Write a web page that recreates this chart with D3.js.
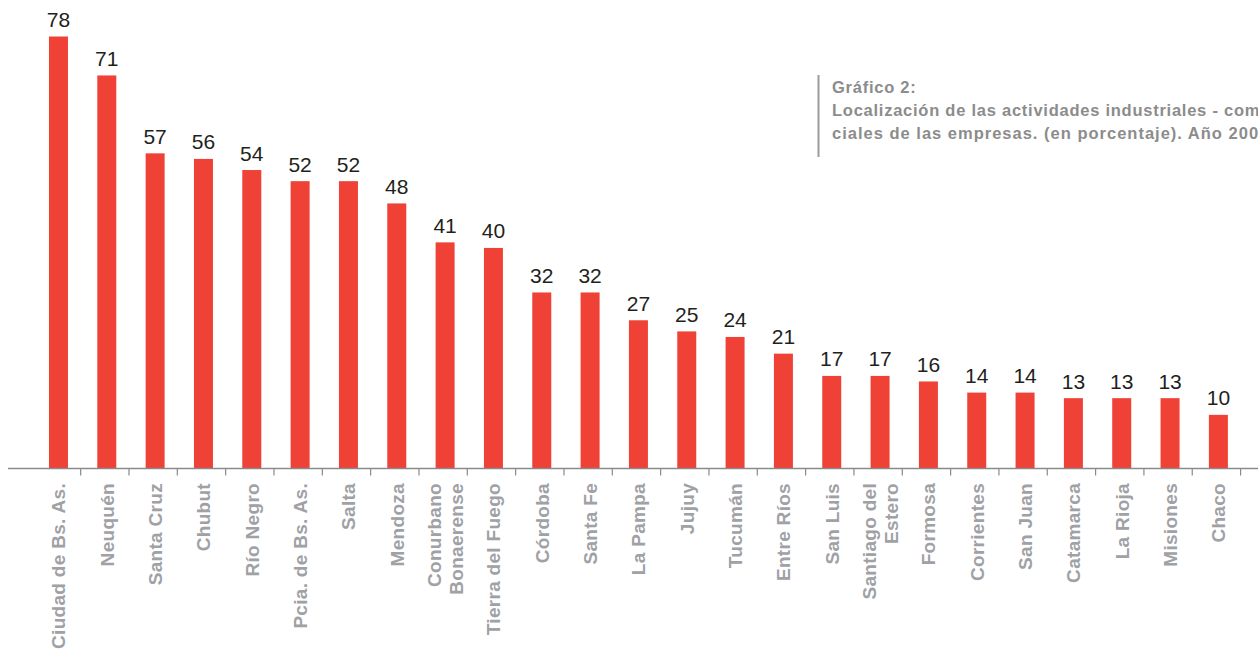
<!DOCTYPE html>
<html>
  <meta charset="utf-8" />
  <head>
    <script src="https://cdnjs.cloudflare.com/ajax/libs/d3/7.8.5/d3.min.js"></script>
    <style>
      body { margin: 0; background: #fff; }
    </style>
  </head>
  <body>
    <script>
    const provincias = [
        "Ciudad de Bs. As.", "Neuquén", "Santa Cruz", "Chubut", "Río Negro",
        "Pcia. de Bs. As.", "Salta", "Mendoza", "Conurbano|Bonaerense",
        "Tierra del Fuego", "Córdoba", "Santa Fe", "La Pampa", "Jujuy",
        "Tucumán", "Entre Ríos", "San Luis", "Santiago del|Estero", "Formosa",
        "Corrientes", "San Juan", "Catamarca", "La Rioja", "Misiones", "Chaco",
    ];
    const porcentajes = [78, 71, 57, 56, 54, 52, 52, 48, 41, 40, 32, 32, 27, 25, 24, 21, 17, 17, 16, 14, 14, 13, 13, 13, 10];
    const titulo = [
        "Gráfico 2:",
        "Localización de las actividades industriales - com",
        "ciales de las empresas. (en porcentaje). Año 200",
    ];

    const width = 1258, height = 649;
    const baseY = 468.5;

    const svg = d3
        .select("body")
        .append("svg")
        .attr("width", width)
        .attr("height", height);

    const x = d3.scaleBand()
        .domain(provincias)
        .range([34.3, 34.3 + 48.33 * provincias.length])
        .paddingInner(0.607)
        .paddingOuter(0.3035);

    const y = d3.scaleLinear().domain([0, 78]).range([470.5, 36.5]);

    // barras
    svg.append("g")
        .selectAll("rect")
        .data(porcentajes)
        .enter()
        .append("rect")
        .attr("x", (d, i) => x(provincias[i]))
        .attr("y", (d) => y(d))
        .attr("width", x.bandwidth())
        .attr("height", (d) => baseY - y(d))
        .attr("fill", "#ef4136");

    // valores
    svg.append("g")
        .selectAll("text")
        .data(porcentajes)
        .enter()
        .append("text")
        .attr("x", (d, i) => x(provincias[i]) + x.bandwidth() / 2)
        .attr("y", (d) => y(d) - 9.5)
        .attr("text-anchor", "middle")
        .attr("font-family", "Liberation Sans, sans-serif")
        .attr("font-size", "21px")
        .attr("fill", "#231f20")
        .text((d) => d);

    // eje
    svg.append("line")
        .attr("x1", 8).attr("x2", width)
        .attr("y1", baseY).attr("y2", baseY)
        .attr("stroke", "#8a8a8a")
        .attr("stroke-width", 1.5);

    svg.append("g")
        .selectAll("line")
        .data(provincias)
        .enter()
        .append("line")
        .attr("x1", (d) => x(d) + x.bandwidth() / 2 + 22.2)
        .attr("x2", (d) => x(d) + x.bandwidth() / 2 + 22.2)
        .attr("y1", baseY)
        .attr("y2", baseY + 7)
        .attr("stroke", "#8a8a8a")
        .attr("stroke-width", 1.2);

    // etiquetas
    const labels = svg.append("g")
        .selectAll("text")
        .data(provincias)
        .enter()
        .append("text")
        .attr("transform", (d) => `translate(${x(d) + x.bandwidth() / 2},483) rotate(-90)`)
        .attr("text-anchor", "end")
        .attr("font-family", "Liberation Sans, sans-serif")
        .attr("font-weight", "bold")
        .attr("font-size", "19px")
        .attr("letter-spacing", "0.3px")
        .attr("fill", "#a0a1a5");

    labels.each(function (d) {
        const lines = d.split("|");
        const sel = d3.select(this);
        lines.forEach((l, j) => {
            sel.append("tspan")
                .attr("x", 0)
                .attr("y", (j - (lines.length - 1) / 2) * 21.5 + 7)
                .text(l);
        });
    });

    // título
    svg.append("line")
        .attr("x1", 818.5).attr("x2", 818.5)
        .attr("y1", 75).attr("y2", 157)
        .attr("stroke", "#9b9b9b")
        .attr("stroke-width", 2);

    svg.append("g")
        .selectAll("text")
        .data(titulo)
        .enter()
        .append("text")
        .attr("x", 832)
        .attr("y", (d, i) => 93 + i * 23)
        .attr("font-family", "Liberation Sans, sans-serif")
        .attr("font-weight", "bold")
        .attr("font-size", "16.5px")
        .attr("letter-spacing", (d, i) => (i === 2 ? "1px" : "0.75px"))
        .attr("fill", "#8c8c8c")
        .text((d) => d);
</script>
</body>
</html>
